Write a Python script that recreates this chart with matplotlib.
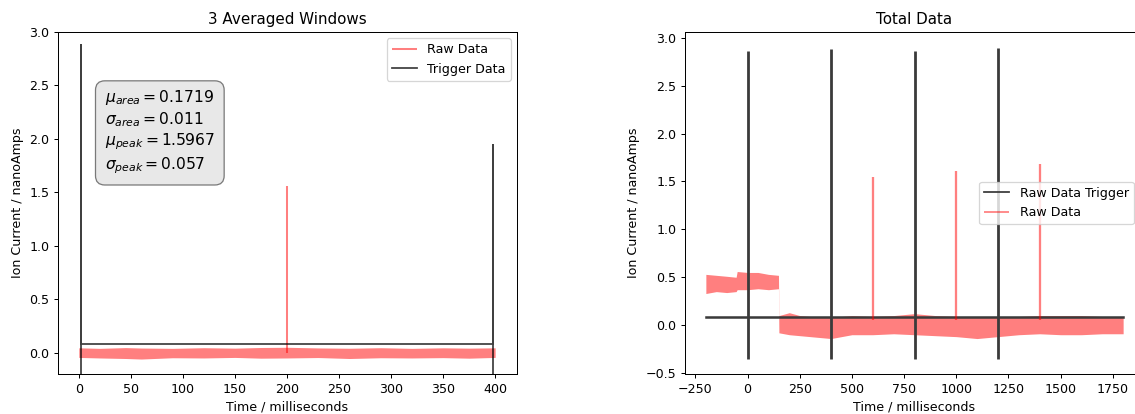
import matplotlib
matplotlib.use("Agg")
import matplotlib.pyplot as plt

# ---------------- data ----------------
# Left panel: "3 Averaged Windows"
left_raw_t = [0, 20, 45, 60, 90, 120, 150, 175, 200, 230, 260, 290, 320, 350, 375, 400]
left_raw_hi = [0.045, 0.040, 0.047, 0.043, 0.040, 0.046, 0.042, 0.048, 0.050, 0.044, 0.041, 0.046, 0.040, 0.045, 0.042, 0.045]
left_raw_lo = [-0.045, -0.050, -0.055, -0.060, -0.048, -0.050, -0.045, -0.052, -0.050, -0.046, -0.055, -0.048, -0.050, -0.047, -0.052, -0.045]
left_raw_spike_t = [200]
left_raw_spike_peak = [1.555]

left_trig_t = [2, 2, 2, 398, 398, 398]
left_trig_v = [-0.3, 2.88, 0.08, 0.08, 1.94, -0.3]

stats_text = ("$\\mu_{area} = 0.1719$\n"
              "$\\sigma_{area} = 0.011$\n"
              "$\\mu_{peak} = 1.5967$\n"
              "$\\sigma_{peak} = 0.057$")

# Right panel: "Total Data"
right_raw_t = [-200, -150, -100, -55, -50, 0, 50, 100, 148, 150, 200, 250, 300, 350, 400,
               500, 600, 700, 800, 900, 1000, 1100, 1200, 1300, 1400, 1500, 1600, 1700, 1800]
right_raw_hi = [0.53, 0.52, 0.51, 0.50, 0.56, 0.55, 0.55, 0.53, 0.52, 0.10, 0.13, 0.10, 0.09, 0.09, 0.08,
                0.10, 0.09, 0.10, 0.12, 0.10, 0.09, 0.09, 0.09, 0.09, 0.10, 0.10, 0.10, 0.09, 0.09]
right_raw_lo = [0.33, 0.35, 0.34, 0.35, 0.37, 0.37, 0.38, 0.37, 0.38, -0.08, -0.10, -0.11, -0.12, -0.13, -0.14,
                -0.10, -0.10, -0.09, -0.10, -0.11, -0.12, -0.14, -0.12, -0.10, -0.09, -0.10, -0.10, -0.09, -0.09]
right_raw_spike_t = [600, 1000, 1400]
right_raw_spike_peak = [1.55, 1.61, 1.68]
right_raw_spike_base = 0.05

right_trig_span = [-200, 1800]
right_trig_base = 0.08
right_trig_spike_t = [0, 400, 800, 1200]
right_trig_spike_peak = [2.86, 2.88, 2.86, 2.89]
right_trig_spike_min = -0.35

# ---------------- figure ----------------
W, H = 1135, 414
DPI = 91
fig = plt.figure(figsize=(W / DPI, H / DPI), dpi=DPI)

def ax_px(l, t, r, b):
    return fig.add_axes([l / W, 1 - b / H, (r - l) / W, (b - t) / H])

RED = (1.0, 0.0, 0.0)
# left axes
ax1 = ax_px(58, 32, 517, 374)
ax1.fill_between(left_raw_t, left_raw_lo, left_raw_hi, color=RED, alpha=0.5, lw=0)
ax1.vlines(left_raw_spike_t, 0, left_raw_spike_peak, color=RED, alpha=0.5, lw=1.6,
           label="Raw Data")
ax1.plot(left_trig_t, left_trig_v, color="black", alpha=0.75, lw=1.4, label="Trigger Data")
ax1.set_xlim(-20, 421)
ax1.set_ylim(-0.2, 3.0)
ax1.set_title("3 Averaged Windows")
ax1.set_xlabel("Time / milliseconds")
ax1.set_ylabel("Ion Current / nanoAmps")
ax1.legend(loc="upper right")
ax1.text(0.102, 0.835, stats_text, transform=ax1.transAxes, fontsize=12.3, va="top",
         bbox=dict(boxstyle="round,pad=0.6", facecolor="lightgray", alpha=0.5))

# right axes (extends slightly past the figure edge, as in the reference)
ax2 = ax_px(685, 32, 1144, 374)
ax2.plot(right_trig_span, [right_trig_base, right_trig_base], color="#3a3a3a", lw=2.0,
         label="Raw Data Trigger")
ax2.vlines(right_trig_spike_t, right_trig_spike_min, right_trig_spike_peak,
           color="#3a3a3a", lw=2.2)
ax2.fill_between(right_raw_t, right_raw_lo, right_raw_hi, color=RED, alpha=0.5, lw=0)
ax2.vlines(right_raw_spike_t, right_raw_spike_base, right_raw_spike_peak, color=RED,
           alpha=0.5, lw=1.8, label="Raw Data")
ax2.set_xlim(-300, 1900)
ax2.set_ylim(-0.51, 3.06)
ax2.set_xticks([-250, 0, 250, 500, 750, 1000, 1250, 1500, 1750])
ax2.set_title("Total Data")
ax2.set_xlabel("Time / milliseconds")
ax2.set_ylabel("Ion Current / nanoAmps")
leg2 = ax2.legend(loc="center right", bbox_to_anchor=(1 - 4 / 459, 0.5))
for h in leg2.legend_handles:
    h.set_linewidth(1.4)

fig.savefig("out.png", dpi=DPI)
